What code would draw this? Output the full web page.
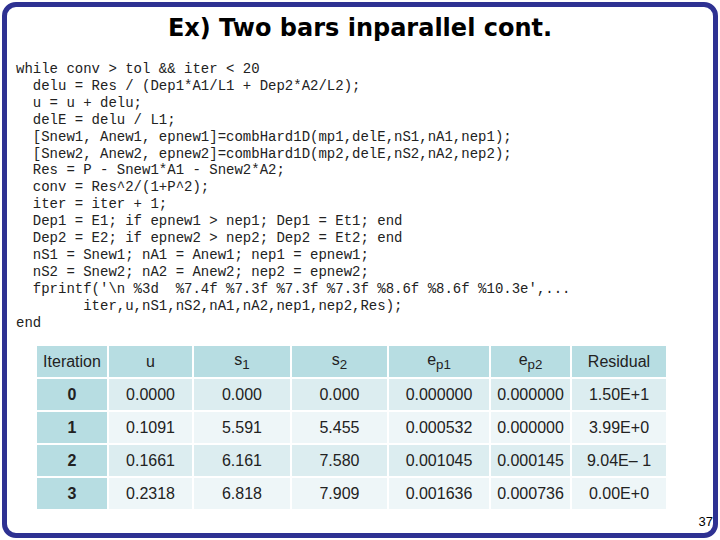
<!DOCTYPE html>
<html><head><meta charset="utf-8">
<script src="https://cdn.jsdelivr.net/npm/chart.js"></script>
<style>
body{margin:0;width:720px;height:540px;background:#fff;position:relative;overflow:hidden;font-family:"Liberation Sans",Arial,sans-serif}
#frame{position:absolute;left:2px;top:2px;width:706px;height:526px;border:5px solid #2e3192;border-radius:14px}
h1{position:absolute;left:0;width:720px;top:14px;margin:0;text-align:center;font-family:"Comic Sans MS","DejaVu Sans";font-weight:bold;font-size:24px}
pre{position:absolute;left:16px;top:61px;margin:0;font-family:"Liberation Mono",monospace;font-size:14px;line-height:16.9px;color:#222}
table{position:absolute;left:35px;top:344px;border-collapse:separate;border-spacing:2px;font-size:16px;color:#222}
td,th{height:31px;text-align:center;padding:0}
th{background:#b7dde2;font-weight:normal}
td.it{background:#b7dde2;font-weight:bold}
tr.a td{background:#dcedf0}tr.b td{background:#eef6f8}
tr.a td.it,tr.b td.it{background:#b7dde2}
#pg{position:absolute;right:7px;top:514px;font-size:13px}
</style></head><body>
<div id="frame"></div>
<h1>Ex) Two bars inparallel cont.</h1>
<pre>while conv > tol && iter < 20
  delu = Res / (Dep1*A1/L1 + Dep2*A2/L2);
  u = u + delu;
  delE = delu / L1;
  [Snew1, Anew1, epnew1]=combHard1D(mp1,delE,nS1,nA1,nep1);
  [Snew2, Anew2, epnew2]=combHard1D(mp2,delE,nS2,nA2,nep2);
  Res = P - Snew1*A1 - Snew2*A2;
  conv = Res^2/(1+P^2);
  iter = iter + 1;
  Dep1 = E1; if epnew1 > nep1; Dep1 = Et1; end
  Dep2 = E2; if epnew2 > nep2; Dep2 = Et2; end
  nS1 = Snew1; nA1 = Anew1; nep1 = epnew1;
  nS2 = Snew2; nA2 = Anew2; nep2 = epnew2;
  fprintf('\n %3d  %7.4f %7.3f %7.3f %7.3f %8.6f %8.6f %10.3e',...
        iter,u,nS1,nS2,nA1,nA2,nep1,nep2,Res);
end</pre>
<table id="t"></table>
<div id="pg">37</div>
<script>
const headers=["Iteration","u","s<sub>1</sub>","s<sub>2</sub>","e<sub>p1</sub>","e<sub>p2</sub>","Residual"];
const widths=[70,83,96,95,100,79,94];
const iterations=["0","1","2","3"];
const uVals=["0.0000","0.1091","0.1661","0.2318"];
const s1Vals=["0.000","5.591","6.161","6.818"];
const s2Vals=["0.000","5.455","7.580","7.909"];
const ep1Vals=["0.000000","0.000532","0.001045","0.001636"];
const ep2Vals=["0.000000","0.000000","0.000145","0.000736"];
const resVals=["1.50E+1","3.99E+0","9.04E\u2013 1","0.00E+0"];
let h="<tr>"+headers.map((x,i)=>`<th style="width:${widths[i]}px">${x}</th>`).join("")+"</tr>";
iterations.forEach((it,i)=>{
  h+=`<tr class="${i%2?'b':'a'}"><td class="it">${it}</td><td>${uVals[i]}</td><td>${s1Vals[i]}</td><td>${s2Vals[i]}</td><td>${ep1Vals[i]}</td><td>${ep2Vals[i]}</td><td>${resVals[i]}</td></tr>`;
});
document.getElementById("t").innerHTML=h;
</script>
</body></html>
